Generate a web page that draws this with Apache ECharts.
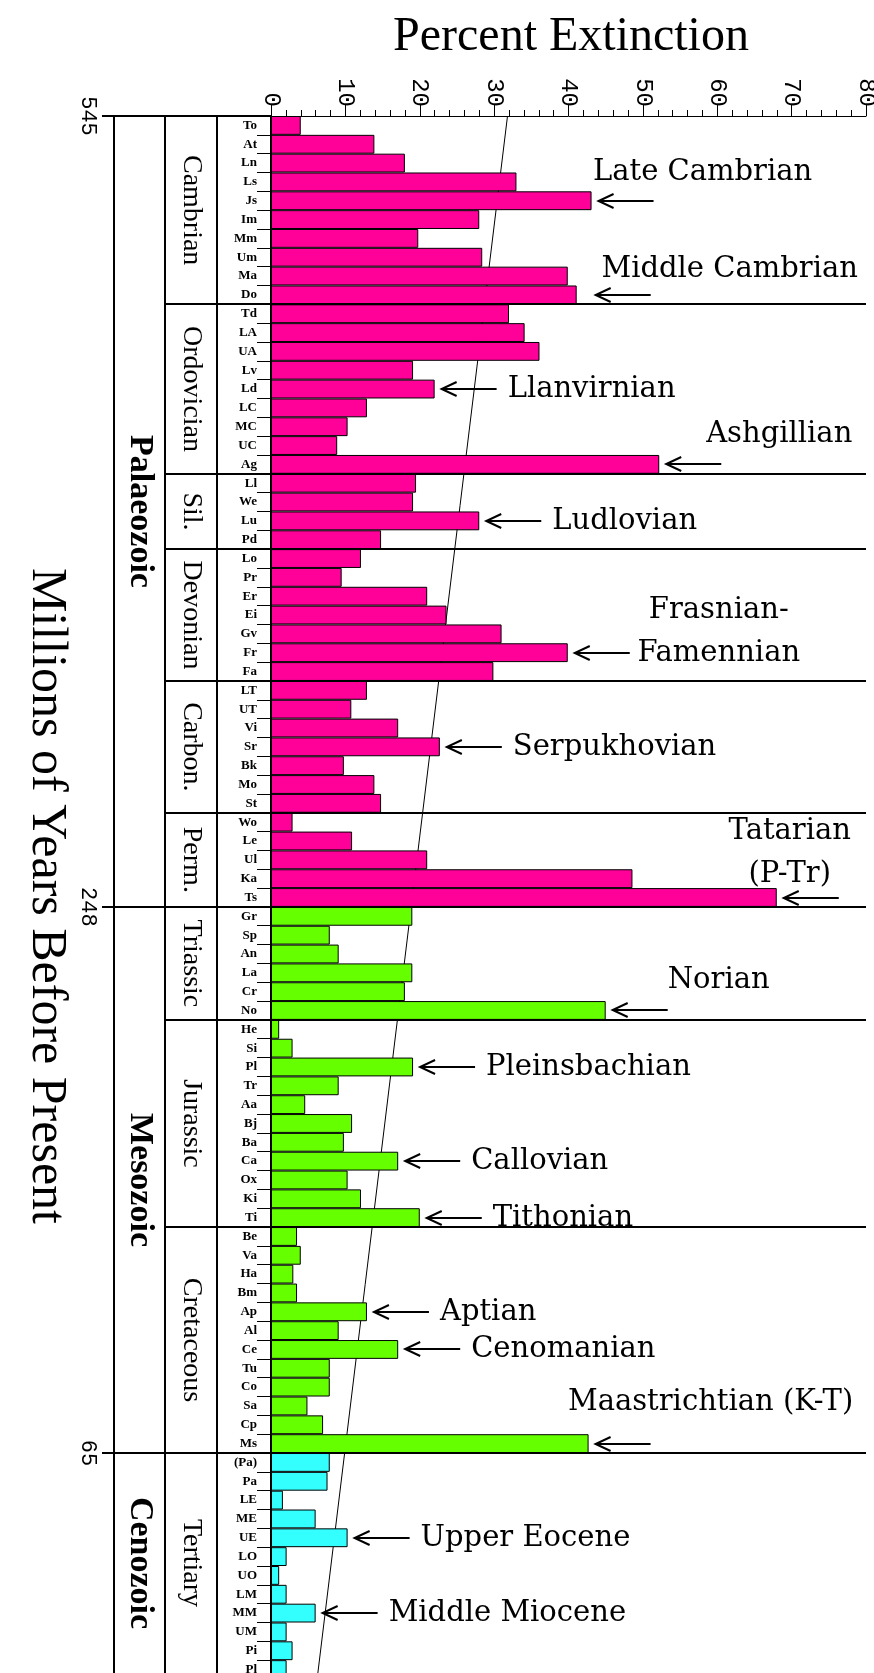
<!DOCTYPE html>
<html>
<head>
<meta charset="utf-8">
<script src="https://cdn.jsdelivr.net/npm/echarts@6/dist/echarts.min.js"></script>
<style>
  html, body { margin: 0; padding: 0; background: #ffffff; }
  #chart { width: 874px; height: 1673px; }
</style>
</head>
<body>
<div id="chart"></div>
<script>
// stages, oldest first
const stages = [
  'To', 'At', 'Ln', 'Ls', 'Js', 'Im', 'Mm', 'Um', 'Ma', 'Do',
  'Td', 'LA', 'UA', 'Lv', 'Ld', 'LC', 'MC', 'UC', 'Ag',
  'Ll', 'We', 'Lu', 'Pd',
  'Lo', 'Pr', 'Er', 'Ei', 'Gv', 'Fr', 'Fa',
  'LT', 'UT', 'Vi', 'Sr', 'Bk', 'Mo', 'St',
  'Wo', 'Le', 'Ul', 'Ka', 'Ts',
  'Gr', 'Sp', 'An', 'La', 'Cr', 'No',
  'He', 'Si', 'Pl', 'Tr', 'Aa', 'Bj', 'Ba', 'Ca', 'Ox', 'Ki', 'Ti',
  'Be', 'Va', 'Ha', 'Bm', 'Ap', 'Al', 'Ce', 'Tu', 'Co', 'Sa', 'Cp', 'Ms',
  '(Pa)', 'Pa', 'LE', 'ME', 'UE', 'LO', 'UO', 'LM', 'MM', 'UM', 'Pi', 'Pl'
]

// percent extinction per stage
const extinction = [
  4.0, 13.9, 18.0, 33.0, 43.1, 28.0, 19.8, 28.4, 39.9, 41.1,
  32.0, 34.1, 36.1, 19.1, 22.0, 12.9, 10.3, 8.9, 52.2,
  19.5, 19.1, 28.0, 14.8,
  12.1, 9.5, 21.0, 23.6, 31.0, 39.9, 29.9,
  12.9, 10.8, 17.1, 22.7, 9.8, 13.9, 14.8,
  2.9, 10.9, 21.0, 48.6, 68.0,
  19.0, 7.9, 9.1, 19.0, 18.0, 45.0,
  1.1, 2.9, 19.1, 9.1, 4.6, 10.9, 9.8, 17.1, 10.3, 12.1, 20.0,
  3.5, 4.0, 3.0, 3.5, 12.9, 9.1, 17.1, 7.9, 7.9, 4.9, 7.0, 42.7,
  7.9, 7.6, 1.6, 6.0, 10.3, 2.1, 1.1, 2.1, 6.0, 2.1, 2.9, 2.1
]

const periodNames = ['Cambrian', 'Ordovician', 'Sil.', 'Devonian', 'Carbon.', 'Perm.', 'Triassic', 'Jurassic', 'Cretaceous', 'Tertiary']
const periodSizes = [10, 9, 4, 7, 7, 5, 6, 11, 12, 12]

const eraNames = ['Palaeozoic', 'Mesozoic', 'Cenozoic']
const eraSizes = [42, 29, 12]
// ages (Ma) written at the era boundaries, top to bottom
const boundaryAges = ['545', '248', '65', '5']

// background trend, percent at the top and at the bottom of the column
const trendValues = [31.8, 6.2]

const percentTicks = [0, 80, 10]

const annotations = [
  { stage: 'Js', text: 'Late Cambrian' },
  { stage: 'Do', text: 'Middle Cambrian' },
  { stage: 'Ld', text: 'Llanvirnian' },
  { stage: 'Ag', text: 'Ashgillian' },
  { stage: 'Lu', text: 'Ludlovian' },
  { stage: 'Fr', text: 'Frasnian-\nFamennian' },
  { stage: 'Sr', text: 'Serpukhovian' },
  { stage: 'Ts', text: 'Tatarian\n(P-Tr)' },
  { stage: 'No', text: 'Norian' },
  { stage: 'Pl', text: 'Pleinsbachian' },
  { stage: 'Ca', text: 'Callovian' },
  { stage: 'Ti', text: 'Tithonian' },
  { stage: 'Ap', text: 'Aptian' },
  { stage: 'Ce', text: 'Cenomanian' },
  { stage: 'Ms', text: 'Maastrichtian (K-T)' },
  { stage: 'UE', text: 'Upper Eocene' },
  { stage: 'MM', text: 'Middle Miocene' }
]

// --- styling / layout ---
const eraColors = ['#ff0099', '#66ff00', '#33ffff']
const serif = "'Liberation Serif', 'DejaVu Serif', serif"
const noteFont = "'DejaVu Serif', serif"
const mono = "'Liberation Mono', 'DejaVu Sans Mono', monospace"
const eraColX = 114
const periodColX = 165
const stageColX = 217
const ageTickX = 102
const arrowLen = 55
const arrowGap = 7
const arrowGapExtra = { 'Middle Cambrian': 19 }
// labels placed above the arrow instead of after it: centre offset from arrow tip
const aboveLabels = {
  'Late Cambrian': [104, -29],
  'Middle Cambrian': [134, -26],
  'Ashgillian': [113, -30],
  'Frasnian-\nFamennian': [144, -21],
  'Tatarian\n(P-Tr)': [6, -45],
  'Norian': [106, -30],
  'Maastrichtian (K-T)': [115, -42]
}

const barColors = []
eraSizes.forEach((n, i) => {
  for (let k = 0; k < n; k++) barColors.push(eraColors[i])
})

const chart = echarts.init(document.getElementById('chart'), null, { renderer: 'canvas' })

chart.setOption({
  animation: false,
  backgroundColor: '#ffffff',
  grid: {
    left: 271,
    top: 116,
    width: 595,
    height: 1563,
    outerBoundsMode: 'none',
    containLabel: false
  },
  xAxis: {
    type: 'value',
    position: 'top',
    min: percentTicks[0],
    max: percentTicks[1],
    interval: percentTicks[2],
    axisLine: { show: true, lineStyle: { color: '#000', width: 1 } },
    axisTick: { show: true, length: 12, lineStyle: { color: '#000', width: 1 } },
    minorTick: { show: true, splitNumber: 5, length: 6, lineStyle: { color: '#000', width: 1 } },
    axisLabel: {
      rotate: -90,
      margin: 9,
      color: '#000',
      fontFamily: mono,
      fontSize: 24
    },
    splitLine: { show: false },
    minorSplitLine: { show: false }
  },
  yAxis: [
    {
      type: 'category',
      data: stages,
      inverse: true,
      axisLine: { show: true, lineStyle: { color: '#000', width: 2 } },
      axisTick: { show: true, interval: 0, length: 14, alignWithLabel: false, lineStyle: { color: '#000', width: 1 } },
      axisLabel: {
        interval: 0,
        margin: 14,
        color: '#000',
        fontFamily: serif,
        fontWeight: 'bold',
        fontSize: 13
      },
      splitLine: { show: false }
    },
    {
      type: 'value',
      min: 0,
      max: stages.length,
      inverse: true,
      show: false
    }
  ],
  series: [
    {
      type: 'line',
      yAxisIndex: 1,
      z: 1,
      silent: true,
      symbol: 'none',
      lineStyle: { color: '#000', width: 1 },
      data: [[trendValues[0], 0], [trendValues[1], stages.length]]
    },
    {
      type: 'bar',
      yAxisIndex: 0,
      z: 2,
      barCategoryGap: '0%',
      silent: true,
      data: extinction.map((v, i) => ({
        value: v,
        itemStyle: { color: barColors[i] }
      })),
      itemStyle: { borderColor: '#000', borderWidth: 1 }
    }
  ]
})

const yAt = (i) => chart.convertToPixel({ yAxisIndex: 1 }, i)
const xAt = (v) => chart.convertToPixel({ xAxisIndex: 0 }, v)

const drawFrame = () => {
  const els = []
  const top = yAt(0)
  const bottom = yAt(stages.length)
  const right = xAt(percentTicks[1])
  const hLine = (x1, x2, y, w) => els.push({
    type: 'line', silent: true, z: 10,
    shape: { x1: x1, y1: Math.round(y), x2: x2, y2: Math.round(y) },
    style: { stroke: '#000', lineWidth: w }
  })
  const vLine = (x, y1, y2, w) => els.push({
    type: 'line', silent: true, z: 10,
    shape: { x1: x, y1: y1, x2: x, y2: y2 },
    style: { stroke: '#000', lineWidth: w }
  })
  const vText = (text, x, y, size, weight, font) => els.push({
    type: 'text', silent: true, z: 10,
    x: x, y: y, rotation: -Math.PI / 2,
    style: {
      text: text, fill: '#000', align: 'center', verticalAlign: 'middle',
      fontFamily: font || serif, fontSize: size, fontWeight: weight || 'normal'
    }
  })

  // column frame
  vLine(eraColX, top, bottom, 2)
  vLine(periodColX, top, bottom, 2)
  vLine(stageColX, top, bottom, 2)

  // era boundaries with ages
  let start = 0
  const eraEdges = [0]
  eraSizes.forEach((n) => { start += n; eraEdges.push(start) })
  eraEdges.forEach((idx, i) => {
    const y = yAt(idx)
    hLine(ageTickX, idx === 0 ? xAt(0) : right, y, 2)
    vText(boundaryAges[i], 88, y, 22, 'normal', mono)
  })
  eraNames.forEach((name, i) => {
    const mid = (yAt(eraEdges[i]) + Math.min(yAt(eraEdges[i + 1]), 1673)) / 2
    vText(name, (eraColX + periodColX) / 2, mid, 34, 'bold')
  })

  // periods
  start = 0
  periodNames.forEach((name, i) => {
    const a = start
    const b = start + periodSizes[i]
    start = b
    if (!eraEdges.includes(b)) hLine(periodColX, right, yAt(b), 2)
    const mid = (yAt(a) + Math.min(yAt(b), 1673)) / 2
    vText(name, (periodColX + stageColX) / 2, mid, 28)
  })

  // arrows + annotation text
  annotations.forEach((a) => {
    const idx = stages.indexOf(a.stage)
    const y = Math.round(yAt(idx + 0.5))
    const tip = xAt(extinction[idx]) + (arrowGapExtra[a.text] || arrowGap)
    els.push({
      type: 'line', silent: true, z: 12,
      shape: { x1: tip, y1: y, x2: tip + arrowLen, y2: y },
      style: { stroke: '#000', lineWidth: 2 }
    })
    els.push({
      type: 'polyline', silent: true, z: 12,
      shape: { points: [[tip + 15, y - 7], [tip, y], [tip + 15, y + 7]] },
      style: { stroke: '#000', lineWidth: 2, fill: null }
    })
    const off = aboveLabels[a.text]
    els.push({
      type: 'text', silent: true, z: 12,
      x: off ? tip + off[0] : tip + arrowLen + 11,
      y: off ? y + off[1] : y,
      style: {
        text: a.text, fill: '#000',
        align: off ? 'center' : 'left', verticalAlign: 'middle',
        fontFamily: noteFont, fontSize: 29, lineHeight: 43
      }
    })
  })

  // titles
  els.push({
    type: 'text', silent: true,
    x: 571, y: 37,
    style: { text: 'Percent Extinction', fill: '#000', align: 'center', verticalAlign: 'middle', fontFamily: serif, fontSize: 48 }
  })
  vText('Millions of Years Before Present', 46, 896, 50)

  chart.setOption({ graphic: els })
}

drawFrame()
</script>
</body>
</html>
